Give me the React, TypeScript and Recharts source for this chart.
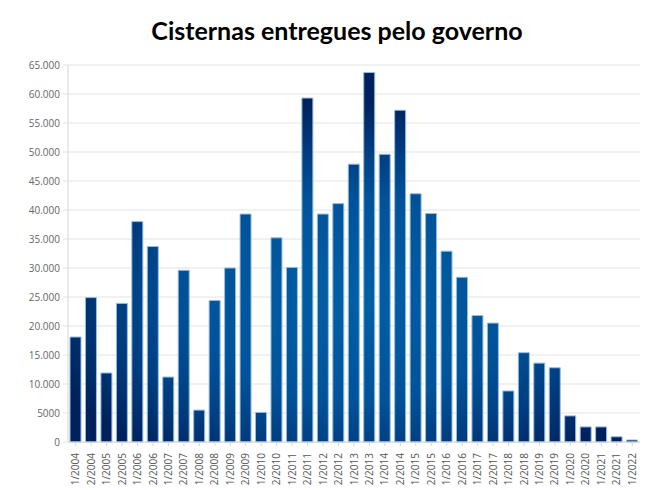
import { Bar, BarChart, CartesianGrid, XAxis, YAxis } from "recharts";

// Semestres (1 = primeiro, 2 = segundo)
const PERIODS = [
  "1/2004", "2/2004", "1/2005", "2/2005", "1/2006", "2/2006", "1/2007", "2/2007",
  "1/2008", "2/2008", "1/2009", "2/2009", "1/2010", "2/2010", "1/2011", "2/2011",
  "1/2012", "2/2012", "1/2013", "2/2013", "1/2014", "2/2014", "1/2015", "2/2015",
  "1/2016", "2/2016", "1/2017", "2/2017", "1/2018", "2/2018", "1/2019", "2/2019",
  "1/2020", "2/2020", "1/2021", "2/2021", "1/2022",
];

const CISTERNAS = [
  18100, 24900, 11900, 23900, 38000, 33700, 11200, 29600,
  5500, 24400, 30000, 39300, 5100, 35200, 30100, 59300,
  39300, 41100, 47900, 63700, 49600, 57200, 42800, 39400,
  32900, 28400, 21800, 20500, 8800, 15400, 13600, 12800,
  4500, 2600, 2600, 900, 350,
];

const Y_TICKS = [
  0, 5000, 10000, 15000, 20000, 25000, 30000, 35000, 40000, 45000, 50000,
  55000, 60000, 65000,
];

const data = PERIODS.map((period, i) => ({ period, value: CISTERNAS[i] }));

// 5000 fica sem separador, acima disso usa ponto
function formatTick(v: number): string {
  if (v < 10000) return String(v);
  const s = String(v);
  return s.slice(0, s.length - 3) + "." + s.slice(s.length - 3);
}

function PeriodTick(props: any) {
  const { x, y, payload } = props;
  const ty = y + 5;
  return (
    <text
      x={x}
      y={ty}
      transform={`rotate(-90, ${x}, ${ty})`}
      textAnchor="end"
      dy="0.35em"
      fontSize={10}
      fontFamily="Open Sans"
      fill="#555"
    >
      {payload.value}
    </text>
  );
}

export default function App() {
  return (
    <div style={{ position: "absolute", left: 0, top: 0, width: 660, height: 490, background: "#fff" }}>
      <div
        style={{
          position: "absolute",
          left: 0,
          top: 15,
          width: 674,
          textAlign: "center",
          fontFamily: "Lato",
          fontWeight: 700,
          fontSize: 25,
          color: "#000",
        }}
      >
        Cisternas entregues pelo governo
      </div>
      <BarChart
        width={660}
        height={490}
        data={data}
        margin={{ top: 65, right: 20, bottom: 0, left: 0 }}
        barSize={11}
      >
        <defs>
          <radialGradient
            id="barFill"
            gradientUnits="userSpaceOnUse"
            cx={0}
            cy={0}
            r={1}
            gradientTransform="translate(355 300) scale(320 200)"
          >
            <stop offset="0" stopColor="#005fa6" />
            <stop offset="0.5" stopColor="#00539a" />
            <stop offset="0.75" stopColor="#003d80" />
            <stop offset="1" stopColor="#00215b" />
          </radialGradient>
        </defs>
        <CartesianGrid vertical={false} stroke="#e3e3e3" />
        <XAxis
          dataKey="period"
          interval={0}
          height={48}
          tick={<PeriodTick />}
          axisLine={{ stroke: "#d6d6d6" }}
          tickLine={{ stroke: "#d6d6d6" }}
          tickSize={4}
        />
        <YAxis
          width={68}
          domain={[0, 65000]}
          ticks={Y_TICKS}
          interval={0}
          tickFormatter={formatTick}
          tick={{ fontSize: 10, fontFamily: "Open Sans", fill: "#666" }}
          axisLine={{ stroke: "#d6d6d6" }}
          tickLine={{ stroke: "#e3e3e3" }}
          tickSize={5}
          tickMargin={3}
        />
        <Bar
          dataKey="value"
          fill="url(#barFill)"
          stroke="#93bde3"
          strokeWidth={1}
          isAnimationActive={false}
        />
      </BarChart>
    </div>
  );
}
